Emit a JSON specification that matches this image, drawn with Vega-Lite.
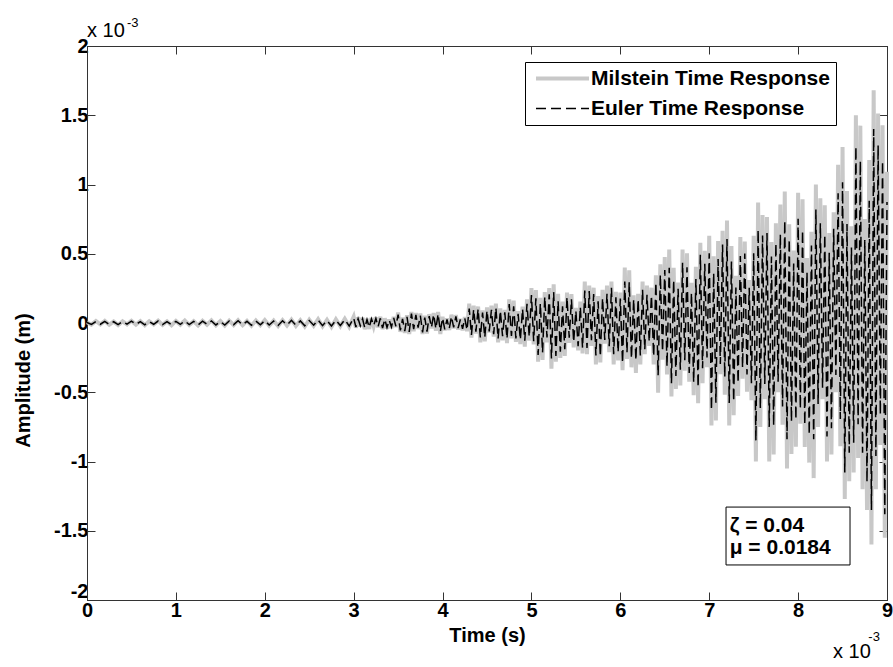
{
  "$schema": "https://vega.github.io/schema/vega-lite/v6.json",
  "width": 800,
  "height": 554,
  "autosize": {"type": "none"},
  "padding": {"left": 87, "top": 46, "right": 6, "bottom": 67},
  "background": "white",
  "config": {
    "font": "Liberation Sans",
    "view": {"stroke": "#333", "strokeWidth": 1},
    "axis": {
      "grid": false,
      "labelFont": "Liberation Sans",
      "labelFontSize": 20,
      "labelFontWeight": "bold",
      "labelColor": "black",
      "titleFont": "Liberation Sans",
      "titleFontSize": 20,
      "titleFontWeight": "bold",
      "titleColor": "black",
      "domainColor": "#333",
      "tickColor": "#333",
      "tickSize": -8,
      "labelFlush": false,
      "labelOverlap": false
    },
    "legend": {
      "orient": "none",
      "legendX": 438,
      "legendY": 16,
      "title": null,
      "labelFont": "Liberation Sans",
      "labelFontSize": 21,
      "labelFontWeight": "bold",
      "labelColor": "black",
      "labelLimit": 0,
      "strokeColor": "black",
      "fillColor": "white",
      "padding": 6,
      "rowPadding": 8,
      "symbolType": "M-5.3,0H5.3",
      "symbolSize": 100,
      "symbolOffset": 21,
      "labelOffset": 18
    }
  },
  "resolve": {"axis": {"x": "independent", "y": "independent"}},
  "layer": [
    {
      "data": {
        "values": [
          {"t":0.00,"m":0.005,"e":0.004},{"t":0.05,"m":-0.012,"e":-0.010},{"t":0.10,"m":0.014,"e":0.011},{"t":0.15,"m":-0.010,"e":-0.009},
          {"t":0.20,"m":0.015,"e":0.012},{"t":0.25,"m":-0.013,"e":-0.010},{"t":0.30,"m":0.011,"e":0.009},{"t":0.35,"m":-0.015,"e":-0.012},
          {"t":0.40,"m":0.012,"e":0.010},{"t":0.45,"m":-0.010,"e":-0.008},{"t":0.50,"m":0.016,"e":0.013},{"t":0.55,"m":-0.012,"e":-0.010},
          {"t":0.60,"m":0.013,"e":0.010},{"t":0.65,"m":-0.016,"e":-0.013},{"t":0.70,"m":0.012,"e":0.010},{"t":0.75,"m":-0.011,"e":-0.009},
          {"t":0.80,"m":0.017,"e":0.014},{"t":0.85,"m":-0.014,"e":-0.011},{"t":0.90,"m":0.012,"e":0.010},{"t":0.95,"m":-0.016,"e":-0.012},
          {"t":1.00,"m":0.015,"e":0.012},{"t":1.05,"m":-0.013,"e":-0.010},{"t":1.10,"m":0.018,"e":0.015},{"t":1.15,"m":-0.015,"e":-0.012},
          {"t":1.20,"m":0.013,"e":0.011},{"t":1.25,"m":-0.018,"e":-0.014},{"t":1.30,"m":0.016,"e":0.013},{"t":1.35,"m":-0.012,"e":-0.010},
          {"t":1.40,"m":0.019,"e":0.015},{"t":1.45,"m":-0.017,"e":-0.014},{"t":1.50,"m":0.014,"e":0.011},{"t":1.55,"m":-0.019,"e":-0.015},
          {"t":1.60,"m":0.017,"e":0.014},{"t":1.65,"m":-0.015,"e":-0.012},{"t":1.70,"m":0.020,"e":0.016},{"t":1.75,"m":-0.016,"e":-0.013},
          {"t":1.80,"m":0.015,"e":0.012},{"t":1.85,"m":-0.020,"e":-0.016},{"t":1.90,"m":0.018,"e":0.014},{"t":1.95,"m":-0.016,"e":-0.013},
          {"t":2.00,"m":0.021,"e":0.017},{"t":2.05,"m":-0.019,"e":-0.015},{"t":2.10,"m":0.017,"e":0.014},{"t":2.15,"m":-0.022,"e":-0.018},
          {"t":2.20,"m":0.020,"e":0.016},{"t":2.25,"m":-0.018,"e":-0.014},{"t":2.30,"m":0.024,"e":0.019},{"t":2.35,"m":-0.021,"e":-0.017},
          {"t":2.40,"m":0.019,"e":0.015},{"t":2.45,"m":-0.025,"e":-0.020},{"t":2.50,"m":0.023,"e":0.018},{"t":2.55,"m":-0.020,"e":-0.016},
          {"t":2.60,"m":0.027,"e":0.022},{"t":2.65,"m":-0.024,"e":-0.019},{"t":2.70,"m":0.022,"e":0.018},{"t":2.75,"m":-0.028,"e":-0.022},
          {"t":2.80,"m":0.026,"e":0.021},{"t":2.85,"m":-0.023,"e":-0.018},{"t":2.90,"m":0.030,"e":0.024},{"t":2.95,"m":-0.027,"e":-0.022},
          {"t":3.000,"m":0.045,"e":0.036},{"t":3.025,"m":-0.034,"e":-0.029},{"t":3.050,"m":0.041,"e":0.031},{"t":3.075,"m":-0.025,"e":-0.020},
          {"t":3.100,"m":0.038,"e":0.030},{"t":3.125,"m":-0.045,"e":-0.036},{"t":3.150,"m":0.029,"e":0.025},{"t":3.175,"m":-0.043,"e":-0.032},
          {"t":3.200,"m":0.036,"e":0.030},{"t":3.225,"m":-0.023,"e":-0.018},{"t":3.250,"m":0.041,"e":0.033},{"t":3.275,"m":-0.032,"e":-0.027},
          {"t":3.300,"m":0.045,"e":0.034},{"t":3.325,"m":-0.045,"e":-0.037},{"t":3.350,"m":0.034,"e":0.027},{"t":3.375,"m":-0.041,"e":-0.033},
          {"t":3.400,"m":0.025,"e":0.021},{"t":3.425,"m":-0.038,"e":-0.029},{"t":3.450,"m":0.045,"e":0.037},{"t":3.475,"m":-0.029,"e":-0.023},
          {"t":3.500,"m":0.076,"e":0.061},{"t":3.525,"m":-0.064,"e":-0.054},{"t":3.550,"m":0.040,"e":0.030},{"t":3.575,"m":-0.072,"e":-0.059},
          {"t":3.600,"m":0.056,"e":0.044},{"t":3.625,"m":-0.080,"e":-0.064},{"t":3.650,"m":0.080,"e":0.068},{"t":3.675,"m":-0.060,"e":-0.045},
          {"t":3.700,"m":0.072,"e":0.059},{"t":3.725,"m":-0.044,"e":-0.034},{"t":3.750,"m":0.068,"e":0.054},{"t":3.775,"m":-0.080,"e":-0.068},
          {"t":3.800,"m":0.052,"e":0.039},{"t":3.825,"m":-0.076,"e":-0.062},{"t":3.850,"m":0.064,"e":0.050},{"t":3.875,"m":-0.040,"e":-0.032},
          {"t":3.900,"m":0.072,"e":0.061},{"t":3.925,"m":-0.056,"e":-0.042},{"t":3.950,"m":0.080,"e":0.066},{"t":3.975,"m":-0.080,"e":-0.062},
          {"t":4.000,"m":0.045,"e":0.036},{"t":4.025,"m":-0.054,"e":-0.046},{"t":4.050,"m":0.033,"e":0.025},{"t":4.075,"m":-0.051,"e":-0.042},
          {"t":4.100,"m":0.060,"e":0.047},{"t":4.125,"m":-0.039,"e":-0.031},{"t":4.150,"m":0.057,"e":0.048},{"t":4.175,"m":-0.048,"e":-0.036},
          {"t":4.200,"m":0.030,"e":0.025},{"t":4.225,"m":-0.054,"e":-0.042},{"t":4.250,"m":0.042,"e":0.034},{"t":4.275,"m":-0.060,"e":-0.051},
          {"t":4.300,"m":0.140,"e":0.105},{"t":4.325,"m":-0.105,"e":-0.086},{"t":4.350,"m":0.126,"e":0.098},{"t":4.375,"m":-0.077,"e":-0.062},
          {"t":4.400,"m":0.119,"e":0.101},{"t":4.425,"m":-0.140,"e":-0.105},{"t":4.450,"m":0.091,"e":0.075},{"t":4.475,"m":-0.133,"e":-0.104},
          {"t":4.500,"m":0.112,"e":0.090},{"t":4.525,"m":-0.070,"e":-0.060},{"t":4.550,"m":0.126,"e":0.095},{"t":4.575,"m":-0.098,"e":-0.080},
          {"t":4.600,"m":0.140,"e":0.109},{"t":4.625,"m":-0.140,"e":-0.112},{"t":4.650,"m":0.105,"e":0.089},{"t":4.675,"m":-0.126,"e":-0.095},
          {"t":4.700,"m":0.094,"e":0.077},{"t":4.725,"m":-0.145,"e":-0.113},{"t":4.750,"m":0.170,"e":0.136},{"t":4.775,"m":-0.111,"e":-0.094},
          {"t":4.800,"m":0.162,"e":0.121},{"t":4.825,"m":-0.136,"e":-0.112},{"t":4.850,"m":0.085,"e":0.066},{"t":4.875,"m":-0.153,"e":-0.122},
          {"t":4.900,"m":0.119,"e":0.101},{"t":4.925,"m":-0.170,"e":-0.128},{"t":4.950,"m":0.170,"e":0.139},{"t":4.975,"m":-0.128,"e":-0.100},
          {"t":5.000,"m":0.252,"e":0.202},{"t":5.025,"m":-0.154,"e":-0.131},{"t":5.050,"m":0.238,"e":0.179},{"t":5.075,"m":-0.280,"e":-0.230},
          {"t":5.100,"m":0.182,"e":0.142},{"t":5.125,"m":-0.266,"e":-0.213},{"t":5.150,"m":0.224,"e":0.190},{"t":5.175,"m":-0.140,"e":-0.105},
          {"t":5.200,"m":0.252,"e":0.207},{"t":5.225,"m":-0.330,"e":-0.257},{"t":5.250,"m":0.280,"e":0.224},{"t":5.275,"m":-0.280,"e":-0.238},
          {"t":5.300,"m":0.210,"e":0.158},{"t":5.325,"m":-0.252,"e":-0.207},{"t":5.350,"m":0.154,"e":0.120},{"t":5.375,"m":-0.238,"e":-0.190},
          {"t":5.400,"m":0.220,"e":0.187},{"t":5.425,"m":-0.143,"e":-0.107},{"t":5.450,"m":0.209,"e":0.171},{"t":5.475,"m":-0.176,"e":-0.137},
          {"t":5.500,"m":0.110,"e":0.088},{"t":5.525,"m":-0.198,"e":-0.168},{"t":5.550,"m":0.154,"e":0.116},{"t":5.575,"m":-0.220,"e":-0.180},
          {"t":5.600,"m":0.300,"e":0.234},{"t":5.625,"m":-0.225,"e":-0.180},{"t":5.650,"m":0.270,"e":0.230},{"t":5.675,"m":-0.165,"e":-0.124},
          {"t":5.700,"m":0.255,"e":0.209},{"t":5.725,"m":-0.300,"e":-0.234},{"t":5.750,"m":0.195,"e":0.156},{"t":5.775,"m":-0.285,"e":-0.242},
          {"t":5.800,"m":0.240,"e":0.180},{"t":5.825,"m":-0.150,"e":-0.123},{"t":5.850,"m":0.270,"e":0.211},{"t":5.875,"m":-0.210,"e":-0.168},
          {"t":5.900,"m":0.300,"e":0.255},{"t":5.925,"m":-0.300,"e":-0.225},{"t":5.950,"m":0.225,"e":0.185},{"t":5.975,"m":-0.270,"e":-0.211},
          {"t":6.000,"m":0.220,"e":0.176},{"t":6.025,"m":-0.340,"e":-0.289},{"t":6.050,"m":0.400,"e":0.300},{"t":6.075,"m":-0.260,"e":-0.213},
          {"t":6.100,"m":0.380,"e":0.296},{"t":6.125,"m":-0.320,"e":-0.256},{"t":6.150,"m":0.200,"e":0.170},{"t":6.175,"m":-0.360,"e":-0.270},
          {"t":6.200,"m":0.210,"e":0.172},{"t":6.225,"m":-0.300,"e":-0.234},{"t":6.250,"m":0.300,"e":0.240},{"t":6.275,"m":-0.225,"e":-0.191},
          {"t":6.300,"m":0.270,"e":0.203},{"t":6.325,"m":-0.165,"e":-0.135},{"t":6.350,"m":0.255,"e":0.199},{"t":6.375,"m":-0.300,"e":-0.240},
          {"t":6.400,"m":0.345,"e":0.293},{"t":6.425,"m":-0.504,"e":-0.378},{"t":6.450,"m":0.424,"e":0.348},{"t":6.475,"m":-0.265,"e":-0.207},
          {"t":6.500,"m":0.477,"e":0.382},{"t":6.525,"m":-0.371,"e":-0.315},{"t":6.550,"m":0.530,"e":0.398},{"t":6.575,"m":-0.530,"e":-0.435},
          {"t":6.600,"m":0.398,"e":0.310},{"t":6.625,"m":-0.477,"e":-0.382},{"t":6.650,"m":0.292,"e":0.248},{"t":6.675,"m":-0.451,"e":-0.338},
          {"t":6.700,"m":0.530,"e":0.435},{"t":6.725,"m":-0.345,"e":-0.269},{"t":6.750,"m":0.504,"e":0.403},{"t":6.775,"m":-0.424,"e":-0.360},
          {"t":6.800,"m":0.290,"e":0.218},{"t":6.825,"m":-0.522,"e":-0.428},{"t":6.850,"m":0.406,"e":0.317},{"t":6.875,"m":-0.580,"e":-0.464},
          {"t":6.900,"m":0.580,"e":0.493},{"t":6.925,"m":-0.435,"e":-0.326},{"t":6.950,"m":0.522,"e":0.428},{"t":6.975,"m":-0.319,"e":-0.249},
          {"t":7.000,"m":0.629,"e":0.503},{"t":7.025,"m":-0.740,"e":-0.629},{"t":7.050,"m":0.481,"e":0.361},{"t":7.075,"m":-0.703,"e":-0.576},
          {"t":7.100,"m":0.592,"e":0.462},{"t":7.125,"m":-0.370,"e":-0.296},{"t":7.150,"m":0.666,"e":0.566},{"t":7.175,"m":-0.518,"e":-0.389},
          {"t":7.200,"m":0.740,"e":0.607},{"t":7.225,"m":-0.740,"e":-0.577},{"t":7.250,"m":0.555,"e":0.444},{"t":7.275,"m":-0.666,"e":-0.566},
          {"t":7.300,"m":0.341,"e":0.256},{"t":7.325,"m":-0.527,"e":-0.432},{"t":7.350,"m":0.620,"e":0.484},{"t":7.375,"m":-0.403,"e":-0.322},
          {"t":7.400,"m":0.589,"e":0.501},{"t":7.425,"m":-0.496,"e":-0.372},{"t":7.450,"m":0.310,"e":0.254},{"t":7.475,"m":-0.558,"e":-0.435},
          {"t":7.500,"m":0.630,"e":0.504},{"t":7.525,"m":-1.000,"e":-0.850},{"t":7.550,"m":0.870,"e":0.675},{"t":7.575,"m":-0.750,"e":-0.615},
          {"t":7.600,"m":0.780,"e":0.632},{"t":7.625,"m":-0.550,"e":-0.440},{"t":7.650,"m":0.765,"e":0.650},{"t":7.675,"m":-1.000,"e":-0.750},
          {"t":7.700,"m":0.585,"e":0.480},{"t":7.725,"m":-0.950,"e":-0.741},{"t":7.750,"m":0.720,"e":0.576},{"t":7.775,"m":-0.500,"e":-0.425},
          {"t":7.800,"m":0.855,"e":0.641},{"t":7.825,"m":-0.735,"e":-0.603},{"t":7.850,"m":0.950,"e":0.741},{"t":7.875,"m":-1.050,"e":-0.840},
          {"t":7.900,"m":0.713,"e":0.606},{"t":7.925,"m":-0.945,"e":-0.709},{"t":7.950,"m":0.523,"e":0.429},{"t":7.975,"m":-0.893,"e":-0.697},
          {"t":8.000,"m":0.940,"e":0.752},{"t":8.025,"m":-0.728,"e":-0.619},{"t":8.050,"m":0.893,"e":0.670},{"t":8.075,"m":-0.896,"e":-0.735},
          {"t":8.100,"m":0.470,"e":0.367},{"t":8.125,"m":-1.008,"e":-0.806},{"t":8.150,"m":0.658,"e":0.559},{"t":8.175,"m":-1.120,"e":-0.840},
          {"t":8.200,"m":1.000,"e":0.820},{"t":8.225,"m":-0.750,"e":-0.585},{"t":8.250,"m":0.900,"e":0.720},{"t":8.275,"m":-0.550,"e":-0.468},
          {"t":8.300,"m":0.850,"e":0.638},{"t":8.325,"m":-1.000,"e":-0.820},{"t":8.350,"m":0.650,"e":0.507},{"t":8.375,"m":-0.950,"e":-0.760},
          {"t":8.400,"m":0.800,"e":0.680},{"t":8.425,"m":-0.500,"e":-0.375},{"t":8.450,"m":1.143,"e":0.937},{"t":8.475,"m":-0.889,"e":-0.693},
          {"t":8.500,"m":1.270,"e":1.016},{"t":8.525,"m":-1.270,"e":-1.080},{"t":8.550,"m":0.953,"e":0.715},{"t":8.575,"m":-1.143,"e":-0.937},
          {"t":8.600,"m":0.699,"e":0.545},{"t":8.625,"m":-1.080,"e":-0.864},{"t":8.650,"m":1.500,"e":1.275},{"t":8.675,"m":-0.975,"e":-0.731},
          {"t":8.700,"m":1.425,"e":1.169},{"t":8.725,"m":-1.200,"e":-0.936},{"t":8.750,"m":0.750,"e":0.600},{"t":8.775,"m":-1.350,"e":-1.148},
          {"t":8.800,"m":1.176,"e":0.882},{"t":8.825,"m":-1.600,"e":-1.350},{"t":8.850,"m":1.680,"e":1.400},{"t":8.875,"m":-1.200,"e":-0.960},
          {"t":8.900,"m":1.512,"e":1.285},{"t":8.925,"m":-0.880,"e":-0.660},{"t":8.950,"m":1.428,"e":1.171},{"t":8.975,"m":-1.550,"e":-1.380},
          {"t":9.000,"m":1.092,"e":0.874}
        ]
      },
      "transform": [{"fold": ["m", "e"], "as": ["key", "val"]}],
      "mark": {"type": "line", "strokeJoin": "miter", "strokeCap": "butt"},
      "encoding": {
        "x": {
          "field": "t", "type": "quantitative",
          "scale": {"domain": [0, 9], "nice": false, "zero": false},
          "axis": {"orient": "bottom", "values": [0,1,2,3,4,5,6,7,8,9], "title": "Time (s)", "labelPadding": 8, "titlePadding": 5}
        },
        "y": {
          "field": "val", "type": "quantitative",
          "scale": {"domain": [-2, 2], "nice": false},
          "axis": {
            "orient": "left", "values": [-2,-1.5,-1,-0.5,0,0.5,1,1.5,2], "title": "Amplitude (m)",
            "labelExpr": "datum.value == 0 ? '0' : (datum.value < 0 ? '-' : '') + format(abs(datum.value), '~g')",
            "labelOffset": {"condition": {"test": "datum.value == -2", "value": -9}, "value": 0},
            "labelPadding": 7, "titleX": -58, "titleY": 334, "titleAngle": -90, "titleBaseline": "alphabetic", "titleAlign": "center"
          }
        },
        "color": {
          "field": "key", "type": "nominal",
          "scale": {"domain": ["m", "e"], "range": ["#c8c8c8", "#000000"]},
          "legend": {"labelExpr": "datum.label == 'm' ? 'Milstein Time Response' : 'Euler Time Response'"}
        },
        "strokeDash": {
          "field": "key", "type": "nominal",
          "scale": {"domain": ["m", "e"], "range": [[1, 0], [10, 5]]},
          "legend": {"labelExpr": "datum.label == 'm' ? 'Milstein Time Response' : 'Euler Time Response'"}
        },
        "strokeWidth": {
          "field": "key", "type": "nominal",
          "scale": {"domain": ["m", "e"], "range": [4, 1.5]},
          "legend": {"labelExpr": "datum.label == 'm' ? 'Milstein Time Response' : 'Euler Time Response'"}
        }
      }
    },
    {
      "data": {"values": [{"x": 7.189, "x2": 8.584, "y": -1.329, "y2": -1.747}]},
      "mark": {"type": "rect", "fill": "white", "stroke": "black", "strokeWidth": 1},
      "encoding": {
        "x": {"field": "x", "type": "quantitative", "axis": {"orient": "top", "values": [0,1,2,3,4,5,6,7,8,9], "labels": false, "title": null}},
        "x2": {"field": "x2"},
        "y": {"field": "y", "type": "quantitative", "axis": {"orient": "right", "values": [-2,-1.5,-1,-0.5,0,0.5,1,1.5,2], "labels": false, "title": null}},
        "y2": {"field": "y2"}
      }
    },
    {
      "data": {"values": [{"x": 7.23, "y": -1.465, "label": "ζ = 0.04"}, {"x": 7.23, "y": -1.625, "label": "μ = 0.0184"}]},
      "mark": {"type": "text", "align": "left", "baseline": "middle", "fontSize": 21, "fontWeight": "bold", "font": "Liberation Sans", "color": "black"},
      "encoding": {
        "x": {"field": "x", "type": "quantitative", "axis": null},
        "y": {"field": "y", "type": "quantitative", "axis": null},
        "text": {"field": "label"}
      }
    },
    {
      "data": {"values": [{"x": 0, "y": 2.065, "label": "x 10"}, {"x": 8.393, "y": -2.419, "label": "x 10"}]},
      "mark": {"type": "text", "align": "left", "baseline": "alphabetic", "fontSize": 20, "fontWeight": "normal", "font": "Liberation Sans", "color": "black"},
      "encoding": {
        "x": {"field": "x", "type": "quantitative", "axis": null},
        "y": {"field": "y", "type": "quantitative", "axis": null},
        "text": {"field": "label"}
      }
    },
    {
      "data": {"values": [{"x": 0.45, "y": 2.137, "label": "-3"}, {"x": 8.79, "y": -2.296, "label": "-3"}]},
      "mark": {"type": "text", "align": "left", "baseline": "alphabetic", "fontSize": 13, "fontWeight": "normal", "font": "Liberation Sans", "color": "black"},
      "encoding": {
        "x": {"field": "x", "type": "quantitative", "axis": null},
        "y": {"field": "y", "type": "quantitative", "axis": null},
        "text": {"field": "label"}
      }
    }
  ]
}
